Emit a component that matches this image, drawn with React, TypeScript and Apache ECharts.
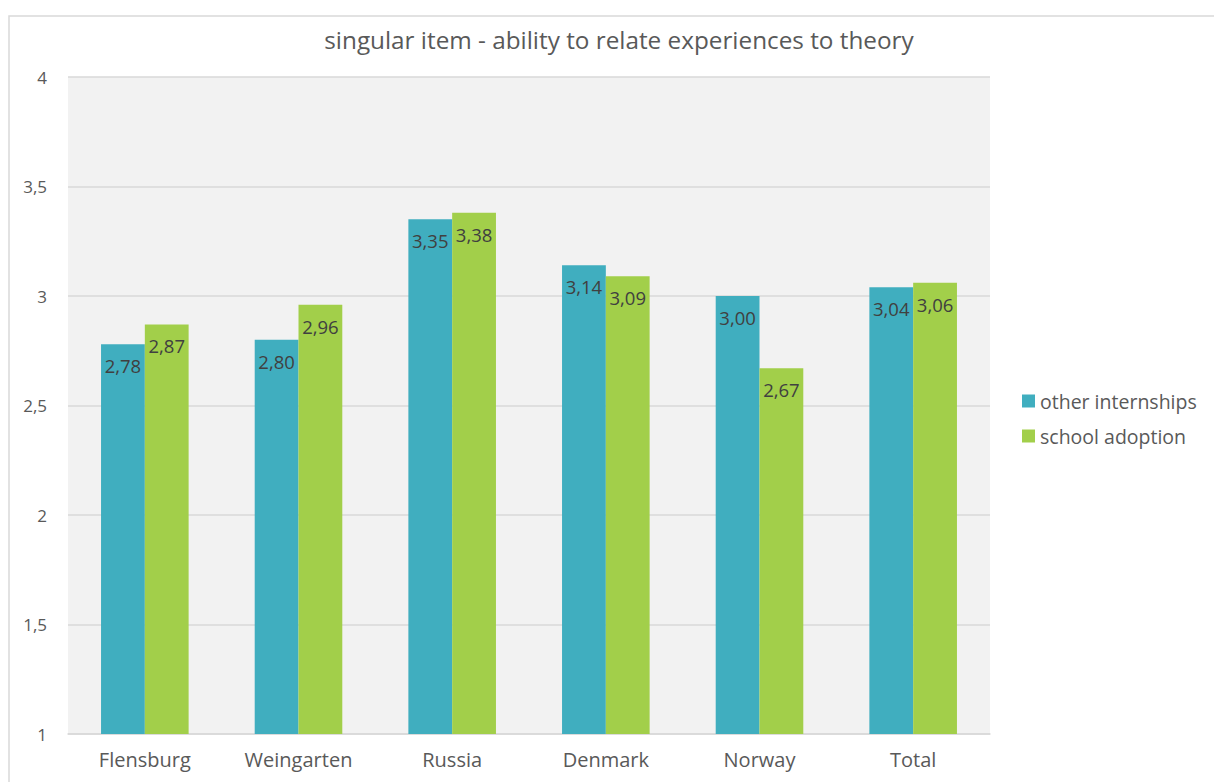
import React, { useEffect, useRef } from "react";
import * as echarts from "echarts";

const categories = ["Flensburg", "Weingarten", "Russia", "Denmark", "Norway", "Total"];
const otherInternships = [2.78, 2.8, 3.35, 3.14, 3.0, 3.04];
const schoolAdoption = [2.87, 2.96, 3.38, 3.09, 2.67, 3.06];
const seriesNames = ["other internships", "school adoption"];
const titleText = "singular item - ability to relate experiences to theory";

const FONT = "'Open Sans', Lato, sans-serif";
const fmt = (v: number) => v.toFixed(2).replace(".", ",");

export default function App() {
  const ref = useRef<HTMLDivElement>(null);
  useEffect(() => {
    if (!ref.current) return;
    const chart = echarts.init(ref.current, null, { renderer: "svg" });
    const label = {
      show: true,
      position: "insideTop" as const,
      distance: 12,
      color: "#404040",
      fontSize: 18.5,
      fontFamily: FONT,
      formatter: (p: any) => fmt(p.value),
    };
    chart.setOption({
      animation: false,
      backgroundColor: "#ffffff",
      textStyle: { fontFamily: FONT },
      title: {
        text: titleText,
        left: 614,
        textAlign: "center",
        top: 22,
        textStyle: { fontSize: 24.3, fontWeight: "normal", color: "#595959", fontFamily: FONT },
      },
      graphic: [
        {
          type: "rect",
          shape: { x: 9, y: 16, width: 1220, height: 800 },
          style: { fill: "none", stroke: "#d9d9d9", lineWidth: 1.5 },
          silent: true,
          z: -10,
        },
      ],
      legend: {
        orient: "vertical",
        left: 1017,
        top: 386,
        itemWidth: 13,
        itemHeight: 13,
        itemGap: 15,
        icon: "rect",
        textStyle: { fontSize: 19.5, color: "#595959", fontFamily: FONT },
        data: seriesNames,
      },
      grid: {
        left: 68,
        right: 224,
        top: 77,
        bottom: 48,
        show: true,
        backgroundColor: "#f2f2f2",
        borderWidth: 0,
      },
      xAxis: {
        type: "category",
        data: categories,
        axisLine: { lineStyle: { color: "#d9d9d9", width: 1.5 } },
        axisTick: { show: false },
        axisLabel: { fontSize: 20, color: "#595959", margin: 15, fontFamily: FONT },
      },
      yAxis: {
        type: "value",
        min: 1,
        max: 4,
        interval: 0.5,
        axisLine: { show: false },
        axisTick: { show: false },
        splitLine: { lineStyle: { color: "#d9d9d9", width: 1.5 } },
        axisLabel: {
          fontSize: 17,
          color: "#595959",
          margin: 21,
          fontFamily: FONT,
          formatter: (v: number) => String(v).replace(".", ","),
        },
      },
      series: [
        {
          name: seriesNames[0],
          type: "bar",
          data: otherInternships,
          barGap: "0%",
          barCategoryGap: "43%",
          itemStyle: { color: "#40aebf" },
          label,
        },
        {
          name: seriesNames[1],
          type: "bar",
          data: schoolAdoption,
          barGap: "0%",
          barCategoryGap: "43%",
          itemStyle: { color: "#a2cf4a" },
          label,
        },
      ],
    });
    return () => chart.dispose();
  }, []);
  return (
    <div
      ref={ref}
      style={{ position: "absolute", left: 0, top: 0, width: 1214, height: 782 }}
    />
  );
}
